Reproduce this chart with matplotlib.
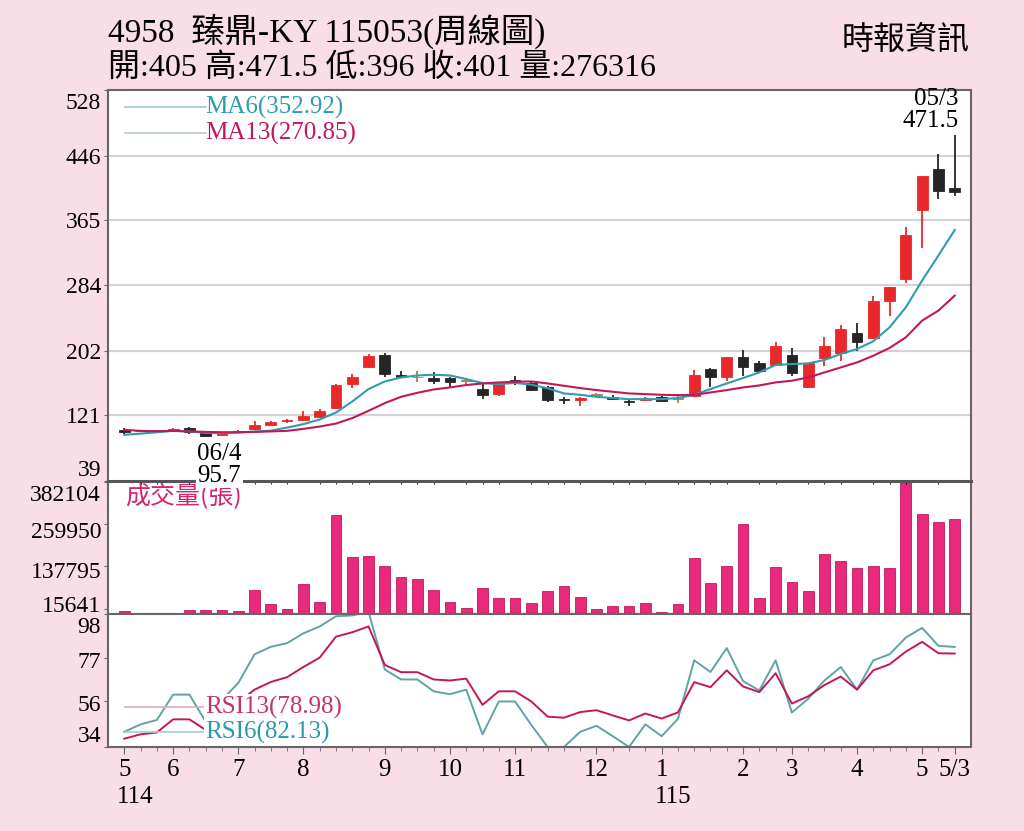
import matplotlib
matplotlib.use("Agg")
import matplotlib.pyplot as plt
import matplotlib.transforms as mtrans
import numpy as np

plt.rcParams['font.family'] = ['Liberation Serif', 'Noto Sans CJK TC', 'DejaVu Sans']

# ---------------- data ----------------
opens = [103.3, 101.5, 101.3, 102.1, 105.5, 99.6, 96.0, 100.5, 103.8, 109.2,
         113.8, 115.9, 119.6, 130.2, 160.2, 181.0, 196.1, 171.9, 168.5, 168.1,
         167.3, 164.4, 154.0, 147.7, 165.6, 161.0, 156.0, 140.8, 140.2, 146.3,
         144.3, 138.5, 140.6, 144.3, 141.3, 145.0, 178.6, 168.5, 193.6, 186.6,
         184.1, 197.0, 156.0, 192.8, 199.5, 224.6, 218.0, 264.7, 291.9, 377.5,
         428.6, 405.0]
highs = [105.8, 103.0, 102.5, 105.0, 106.7, 100.5, 99.0, 103.0, 114.2, 114.0,
         116.0, 126.8, 129.5, 160.5, 172.9, 198.0, 199.5, 176.9, 176.0, 175.3,
         168.5, 168.0, 160.2, 162.9, 170.6, 163.0, 158.1, 143.5, 143.6, 149.0,
         146.0, 140.5, 144.0, 145.5, 144.7, 177.8, 180.3, 194.0, 203.2, 188.5,
         213.3, 205.4, 187.0, 218.7, 234.2, 236.2, 270.1, 282.0, 356.6, 421.0,
         447.7, 471.5]
lows = [97.5, 100.0, 100.5, 101.5, 97.5, 95.9, 95.7, 99.5, 103.0, 108.5,
        111.5, 114.5, 118.5, 129.0, 155.0, 180.0, 168.5, 168.0, 162.3, 160.2,
        156.0, 160.5, 141.4, 145.4, 159.4, 151.0, 138.4, 135.2, 133.0, 143.5,
        140.5, 133.0, 139.5, 138.0, 136.0, 144.5, 156.9, 164.4, 170.6, 175.5,
        183.0, 170.6, 155.0, 183.2, 189.5, 202.0, 217.0, 245.9, 286.9, 330.8,
        391.3, 396.0]
closes = [100.1, 101.5, 101.8, 104.6, 100.9, 95.8, 98.5, 100.8, 109.6, 113.3,
          114.5, 120.1, 126.8, 159.4, 169.4, 195.4, 172.8, 168.5, 168.6, 164.0,
          163.1, 164.5, 146.8, 161.0, 162.3, 153.1, 140.6, 140.6, 143.4, 146.5,
          141.8, 138.3, 143.4, 139.3, 141.5, 172.0, 168.5, 193.6, 181.0, 176.9,
          207.4, 174.0, 186.6, 208.3, 228.7, 213.3, 263.8, 281.4, 347.1, 420.5,
          401.3, 401.0]

ma6 = [96.7, 98.3, 99.9, 101.7, 101.0, 99.2, 98.8, 99.6, 100.8, 102.0,
       105.8, 110.1, 115.9, 124.6, 138.4, 154.0, 163.5, 168.5, 171.0, 171.9,
       171.0, 166.5, 161.5, 160.2, 161.7, 159.4, 155.0, 148.5, 146.8, 144.3,
       142.7, 141.4, 141.4, 141.4, 142.7, 146.8, 154.0, 161.0, 167.8, 174.8,
       184.1, 185.3, 186.1, 190.3, 197.9, 204.1, 213.7, 231.2, 256.3, 289.8,
       321.1, 352.92]
ma13 = [103.0, 101.7, 101.3, 101.7, 101.0, 100.4, 100.0, 100.0, 100.4, 101.0,
        101.7, 104.2, 107.1, 110.8, 117.6, 126.8, 136.4, 144.3, 149.3, 153.5,
        156.0, 159.0, 161.0, 162.3, 163.1, 163.5, 161.0, 158.1, 155.2, 152.7,
        150.6, 148.5, 147.7, 146.8, 146.4, 146.8, 149.7, 152.7, 156.0, 158.5,
        162.3, 164.4, 168.5, 174.8, 181.0, 187.3, 195.7, 205.4, 218.7, 239.6,
        252.1, 270.85]

volumes = [9650, 600, 900, 2900, 10600, 11600, 11600, 9650, 69500, 28000,
           15400, 87800, 34700, 286600, 164000, 167900, 138900, 107100, 102300, 68500,
           34700, 18300, 76200, 45300, 47300, 30900, 67500, 82000, 49200, 15400,
           24100, 24100, 32800, 6750, 28000, 163100, 89700, 138900, 259600, 45300,
           137000, 93600, 66600, 174600, 154400, 133200, 139900, 133200, 382104, 288500,
           265400, 276316]

rsi6 = [41.3, 44.9, 47.0, 59.2, 59.2, 46.2, 56.7, 64.8, 78.6, 82.2,
        84.0, 88.7, 92.0, 96.9, 97.3, 99.0, 71.3, 66.5, 66.5, 60.8,
        59.4, 61.6, 40.1, 55.9, 55.9, 44.6, 34.0, 34.0, 41.3, 44.2,
        39.2, 34.0, 44.9, 39.2, 47.5, 75.7, 70.1, 81.6, 65.7, 61.2,
        75.7, 50.6, 57.2, 66.0, 72.5, 61.6, 75.7, 78.6, 86.7, 91.3,
        82.7, 82.13]
rsi13 = [38.0, 40.1, 41.0, 47.3, 47.3, 42.2, 50.2, 55.6, 61.6, 65.3,
         67.6, 72.5, 77.0, 87.1, 89.2, 92.0, 73.5, 70.0, 70.0, 66.5,
         66.0, 66.9, 54.3, 60.8, 60.8, 55.9, 48.6, 48.1, 50.8, 51.7,
         49.2, 46.8, 50.1, 47.7, 50.6, 65.2, 62.8, 70.9, 63.1, 60.4,
         69.5, 54.9, 58.4, 63.8, 67.9, 61.6, 70.9, 73.8, 79.9, 84.6,
         79.1, 78.98]

price_ticks = [39, 121, 202, 284, 365, 446, 528]
vol_ticks = [15641, 137795, 259950, 382104]
rsi_ticks = [34, 56, 77, 98]
month_pos = [0, 3, 7, 11, 16, 20, 24, 29, 33, 38, 41, 45, 49, 51]
month_labels = ['5', '6', '7', '8', '9', '10', '11', '12', '1', '2', '3', '4', '5', '5/3']
year_marks = [(0, '114'), (33, '115')]

title = '4958  臻鼎-KY 115053(周線圖)'
subtitle = '開:405 高:471.5 低:396 收:401 量:276316'
source = '時報資訊'

# ---------------- styles ----------------
BG = '#f9dde7'
RED = '#e8282b'
BLACK = '#252525'
DOJI = '#b07a4a'
TEAL = '#2f9cb0'
CRIMSON = '#c2185b'
VOLC = '#e8297c'
SPINE = '#666666'

fig = plt.figure(figsize=(10.24, 8.31), dpi=100, facecolor=BG)
W, H = 1024, 831
def rect(l, t, r, b):
    return [l / W, 1 - b / H, (r - l) / W, (b - t) / H]

def shift(label, dy_px):
    # shift a tick label vertically by dy_px pixels (positive = down)
    label.set_transform(label.get_transform() +
                        mtrans.ScaledTranslation(0, -dy_px / 100.0, fig.dpi_scale_trans))

ax = fig.add_axes(rect(108, 90, 971, 481))
axv = fig.add_axes(rect(108, 481, 971, 614), sharex=ax)
axr = fig.add_axes(rect(108, 614, 971, 747), sharex=ax)
ax.set_zorder(5)

x = np.arange(len(closes))
o = np.array(opens); c = np.array(closes); h = np.array(highs); l = np.array(lows)
cols = []
for oo, cc in zip(o, c):
    if abs(cc - oo) < 0.25:
        cols.append(DOJI if cc >= oo else BLACK)
    elif cc > oo:
        cols.append(RED)
    else:
        cols.append(BLACK)

for a in (ax, axv, axr):
    a.set_facecolor('white')
    for s in a.spines.values():
        s.set_color(SPINE)
        s.set_linewidth(1.5)
ax.spines['bottom'].set_linewidth(2.2)
ax.spines['bottom'].set_color('#555555')

# main panel
ax.set_xlim(-1, 52)
ax.set_ylim(39, 528)
for gv in price_ticks[1:-1]:
    ax.axhline(gv, color='#d4d4d4', lw=1.6, zorder=0)
ax.vlines(x, l, h, colors=cols, lw=1.3, zorder=2)
body_b = np.minimum(o, c)
body_h = np.maximum(np.abs(c - o), 1.0)
ax.bar(x, body_h, bottom=body_b, width=0.66, color=cols, edgecolor=cols, lw=0.6, zorder=3)
ax.plot(x, ma6, color=TEAL, lw=1.5, zorder=4)
ax.plot(x, ma13, color=CRIMSON, lw=1.5, zorder=4)

ax.set_yticks(price_ticks)
ax.set_yticklabels([str(v) for v in price_ticks])
ax.tick_params(axis='y', labelsize=17, length=3, pad=2, color=SPINE)
ax.tick_params(axis='x', bottom=False, labelbottom=False)
ylabs = ax.get_yticklabels()
ylabs[0].set_va('bottom'); ylabs[-1].set_va('top')
shift(ylabs[-1], 3)

# legend for MA
ax.plot([0.02, 0.113], [0.956, 0.956], transform=ax.transAxes, color='#9fc9cc', lw=1.2)
ax.plot([0.02, 0.113], [0.89, 0.89], transform=ax.transAxes, color='#b9c9cc', lw=1.2)
ax.text(0.113, 0.956, 'MA6(%.2f)' % ma6[-1], transform=ax.transAxes, color=TEAL,
        fontsize=18, va='center', ha='left')
ax.text(0.113, 0.89, 'MA13(%.2f)' % ma13[-1], transform=ax.transAxes, color=CRIMSON,
        fontsize=18, va='center', ha='left')

# annotations
imax = int(np.argmax(h))
ax.annotate('05/3\n%.1f' % h[imax], xy=(imax, h[imax]), xytext=(3, 2), textcoords='offset points',
            ha='right', va='bottom', fontsize=18, linespacing=1.0, annotation_clip=False)
imin = int(np.argmin(l))
ax.annotate('06/4\n%.1f' % l[imin], xy=(imin, l[imin]), xytext=(-2, -5), textcoords='offset points',
            ha='center', va='top', fontsize=18, linespacing=1.0, annotation_clip=False,
            bbox=dict(boxstyle='square,pad=0.05', fc='white', ec='none'), zorder=10)

# volume panel
axv.set_ylim(0, 385000)
axv.bar(x, volumes, width=0.66, color=VOLC, edgecolor='#c01860', lw=0.6)
axv.set_yticks(vol_ticks)
axv.set_yticklabels([str(v) for v in vol_ticks])
axv.tick_params(axis='y', labelsize=17, length=3, pad=2, color=SPINE)
axv.tick_params(axis='x', bottom=False, labelbottom=False)
vl = axv.get_yticklabels()
vl[-1].set_va('top')
shift(vl[-1], 3)
shift(vl[2], 6)
shift(vl[1], 4)
shift(vl[0], -5)
axv.text(0.02, 0.88, '成交量(張)', transform=axv.transAxes, color='#d6246e', fontsize=18,
         ha='left', va='center', family=['Noto Sans CJK TC'])

# RSI panel
axr.set_ylim(34, 98)
axr.plot(x, rsi6, color='#5fa3a8', lw=1.4, zorder=2)
axr.plot(x, rsi13, color=CRIMSON, lw=1.4, zorder=2)
axr.set_yticks(rsi_ticks)
axr.set_yticklabels([str(v) for v in rsi_ticks])
axr.tick_params(axis='y', labelsize=17, length=3, pad=2, color=SPINE)
rl = axr.get_yticklabels()
rl[0].set_va('bottom'); rl[-1].set_va('top')
shift(rl[-1], 3)
shift(rl[1], 2)
shift(rl[2], 2)
axr.plot([0.02, 0.113], [0.30, 0.30], transform=axr.transAxes, color='#e2aab8', lw=1.2, zorder=3)
axr.plot([0.02, 0.113], [0.11, 0.11], transform=axr.transAxes, color='#a9cccc', lw=1.2, zorder=3)
axr.text(0.113, 0.30, 'RSI13(%.2f)' % rsi13[-1], transform=axr.transAxes, color='#c8336a',
         fontsize=18, va='center', ha='left', zorder=5,
         bbox=dict(boxstyle='square,pad=0.05', fc='white', ec='none'))
axr.text(0.113, 0.11, 'RSI6(%.2f)' % rsi6[-1], transform=axr.transAxes, color='#2a9aaa',
         fontsize=18, va='center', ha='left', zorder=5,
         bbox=dict(boxstyle='square,pad=0.05', fc='white', ec='none'))

axr.set_xticks(month_pos)
axr.set_xticklabels(month_labels)
axr.set_xticks(x, minor=True)
axr.tick_params(axis='x', which='major', labelsize=18, length=5, pad=4, color=SPINE)
axr.tick_params(axis='x', which='minor', length=3, color=SPINE)
for xi, lab in year_marks:
    axr.annotate(lab, xy=(xi, 34), xytext=(-5, -28), textcoords='offset points',
                 ha='left', va='top', fontsize=18, annotation_clip=False)

# header
fig.text(108 / W, 1 - 31 / H, title, fontsize=24, ha='left', va='center')
fig.text(108 / W, 1 - 68 / H, subtitle, fontsize=23, ha='left', va='center')
fig.text(970 / W, 1 - 40 / H, source, fontsize=23, ha='right', va='center',
         family=['Noto Sans CJK TC'])

fig.savefig('out.png', dpi=100, facecolor=BG)
